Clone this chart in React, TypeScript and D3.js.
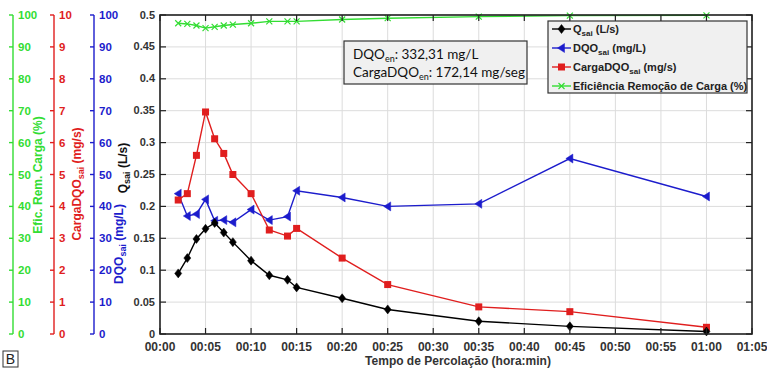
import React from "react";
import * as d3 from "d3";

const times = [2, 3, 4, 5, 6, 7, 8, 10, 12, 14, 15, 20, 25, 35, 45, 60];
const qSai = [0.095, 0.119, 0.149, 0.165, 0.174, 0.159, 0.144, 0.115, 0.092, 0.085, 0.073, 0.056, 0.0385, 0.02, 0.012, 0.004];
const dqoSai = [44, 37, 37.6, 42.2, 35.5, 35.7, 35, 39, 35.7, 36.8, 44.9, 42.8, 40, 40.8, 55, 43.1];
const cargaDqo = [4.2, 4.4, 5.6, 6.96, 6.12, 5.66, 5.0, 4.4, 3.26, 3.07, 3.31, 2.38, 1.55, 0.85, 0.7, 0.21];
const eficiencia = [97.4, 97.2, 96.7, 95.9, 96.3, 96.7, 97.0, 97.4, 98.0, 98.0, 98.0, 98.6, 99.0, 99.5, 99.8, 99.9];

const xTicks = d3.range(0, 66, 5);
const yTicks = d3.range(0, 0.5001, 0.05);
const pctTicks = d3.range(0, 101, 10);
const cargaTicks = d3.range(0, 11, 1);
const dqoTicks = d3.range(0, 101, 10);

const GREEN = "#33dd33";
const RED = "#e01e1e";
const BLUE = "#1c1ccc";
const FONT = "'Liberation Sans', Arial, sans-serif";

const W = 767, H = 370;
const L = 160, R = 752, T = 15, B = 334;

const fmtTime = (m: number) => {
  const h = Math.floor(m / 60);
  const mm = m % 60;
  return `${String(h).padStart(2, "0")}:${String(mm).padStart(2, "0")}`;
};

function Marker({ kind, x, y, color }: { kind: string; x: number; y: number; color: string }) {
  if (kind === "diamond") {
    return <path d={`M${x},${y - 4.5}L${x + 3.5},${y}L${x},${y + 4.5}L${x - 3.5},${y}Z`} fill={color} stroke={color} strokeWidth={0.5} />;
  }
  if (kind === "tri") {
    return <path d={`M${x - 4},${y}L${x + 3},${y - 4.5}L${x + 3},${y + 4.5}Z`} fill={color} stroke={color} strokeWidth={0.5} />;
  }
  if (kind === "square") {
    return <rect x={x - 3.5} y={y - 3.5} width={7} height={7} fill={color} />;
  }
  return (
    <path d={`M${x - 3},${y - 3}L${x + 3},${y + 3}M${x - 3},${y + 3}L${x + 3},${y - 3}`} stroke={color} strokeWidth={1.2} fill="none" />
  );
}

export default function App() {
  const x = d3.scaleLinear().domain([0, 65]).range([L, R]);
  const y = d3.scaleLinear().domain([0, 0.5]).range([B, T]);
  const yPct = d3.scaleLinear().domain([0, 100]).range([B, T]);
  const yCarga = d3.scaleLinear().domain([0, 10]).range([B, T]);
  const yDqo = d3.scaleLinear().domain([0, 100]).range([B, T]);

  const series = [
    { vals: eficiencia, sc: yPct, color: GREEN, kind: "x" },
    { vals: dqoSai, sc: yDqo, color: BLUE, kind: "tri" },
    { vals: cargaDqo, sc: yCarga, color: RED, kind: "square" },
    { vals: qSai, sc: y, color: "#000", kind: "diamond" },
  ];

  const leftAxes = [
    { xPos: 13, sc: yPct, ticks: pctTicks, color: GREEN },
    { xPos: 54, sc: yCarga, ticks: cargaTicks, color: RED },
    { xPos: 94, sc: yDqo, ticks: dqoTicks, color: BLUE },
  ];

  const legendItems = [
    { kind: "diamond", color: "#000", main: "Q", sub: "sai", rest: " (L/s)" },
    { kind: "tri", color: BLUE, main: "DQO", sub: "sai", rest: " (mg/L)" },
    { kind: "square", color: RED, main: "CargaDQO", sub: "sai", rest: " (mg/s)" },
    { kind: "x", color: GREEN, main: "Eficiência Remoção de Carga (%)", sub: "", rest: "" },
  ];

  return (
    <svg width={W} height={H} style={{ position: "absolute", left: 0, top: 0, background: "#fff" }} fontFamily={FONT}>
      {/* grid */}
      {xTicks.map((t) => (
        <line key={"gx" + t} x1={x(t)} x2={x(t)} y1={T} y2={B} stroke="#dcdcdc" strokeWidth={1} />
      ))}
      {yTicks.map((t) => (
        <line key={"gy" + t} x1={L} x2={R} y1={y(t)} y2={y(t)} stroke="#dcdcdc" strokeWidth={1} />
      ))}

      {/* series */}
      {series.map((s, i) => {
        const line = d3.line<number>().x((_, j) => x(times[j])).y((v) => s.sc(v));
        return (
          <g key={"s" + i}>
            <path d={line(s.vals) || ""} fill="none" stroke={s.color} strokeWidth={1.4} />
            {s.vals.map((v, j) => (
              <Marker key={j} kind={s.kind} x={x(times[j])} y={s.sc(v)} color={s.color} />
            ))}
          </g>
        );
      })}

      {/* frame & ticks */}
      <rect x={L} y={T} width={R - L} height={B - T} fill="none" stroke="#222" strokeWidth={1.6} />
      {xTicks.map((t) => (
        <g key={"xt" + t}>
          <line x1={x(t)} x2={x(t)} y1={B} y2={B - 6} stroke="#222" strokeWidth={1.2} />
          <line x1={x(t)} x2={x(t)} y1={T} y2={T + 6} stroke="#222" strokeWidth={1.2} />
          <text x={x(t)} y={B + 17} textAnchor="middle" fontSize={12} fontWeight="bold" fill="#333">
            {fmtTime(t)}
          </text>
        </g>
      ))}
      {yTicks.map((t) => (
        <g key={"yt" + t}>
          <line x1={L} x2={L + 6} y1={y(t)} y2={y(t)} stroke="#222" strokeWidth={1.2} />
          <line x1={R} x2={R - 6} y1={y(t)} y2={y(t)} stroke="#222" strokeWidth={1.2} />
          <text x={L - 5} y={y(t) + 3.5} textAnchor="end" fontSize={11} fontWeight="bold" fill="#333">
            {d3.format("~g")(+t.toFixed(2))}
          </text>
        </g>
      ))}

      {/* left axes */}
      {leftAxes.map((a, i) => (
        <g key={"la" + i}>
          <line x1={a.xPos} x2={a.xPos} y1={T} y2={B} stroke={a.color} strokeWidth={1.4} />
          {a.ticks.map((t) => (
            <g key={t}>
              <line x1={a.xPos - 4} x2={a.xPos} y1={a.sc(t)} y2={a.sc(t)} stroke={a.color} strokeWidth={1.4} />
              <text x={a.xPos + 5} y={a.sc(t) + 4} fontSize={11.5} fontWeight="bold" fill={a.color}>
                {t}
              </text>
            </g>
          ))}
        </g>
      ))}

      {/* axis labels */}
      <text transform="translate(42,175) rotate(-90)" textAnchor="middle" fontSize={12} fontWeight="bold" fill={GREEN}>
        Efic. Rem. Carga (%)
      </text>
      <text transform="translate(81,184) rotate(-90)" textAnchor="middle" fontSize={12} fontWeight="bold" fill={RED}>
        CargaDQO<tspan fontSize={9} dy={3}>sai</tspan>
        <tspan dy={-3}> (mg/s)</tspan>
      </text>
      <text transform="translate(123,244) rotate(-90)" textAnchor="middle" fontSize={12} fontWeight="bold" fill={BLUE}>
        DQO<tspan fontSize={9} dy={3}>sai</tspan>
        <tspan dy={-3}> (mg/L)</tspan>
      </text>
      <text transform="translate(127,168) rotate(-90)" textAnchor="middle" fontSize={12} fontWeight="bold" fill="#111">
        Q<tspan fontSize={9} dy={3}>sai</tspan>
        <tspan dy={-3}> (L/s)</tspan>
      </text>
      <text x={458} y={365} textAnchor="middle" fontSize={12} fontWeight="bold" fill="#333">
        Tempo de Percolação (hora:min)
      </text>

      {/* annotation */}
      <rect x={344} y={41} width={183} height={43} fill="#f0f0f0" stroke="#333" strokeWidth={1.2} />
      <text x={353} y={59} fontSize={13.5} fontFamily="Lato, 'Open Sans', sans-serif" fill="#111">
        DQO<tspan fontSize={9} dy={3}>en</tspan>
        <tspan dy={-3}>: 332,31 mg/L</tspan>
      </text>
      <text x={353} y={77} fontSize={13.5} fontFamily="Lato, 'Open Sans', sans-serif" fill="#111">
        CargaDQO<tspan fontSize={9} dy={3}>en</tspan>
        <tspan dy={-3}>: 172,14 mg/seg</tspan>
      </text>

      {/* legend */}
      <rect x={548} y={21} width={199} height={72} fill="#f0f0f0" stroke="#333" strokeWidth={1.2} />
      {legendItems.map((it, i) => {
        const cy = 29 + i * 19;
        return (
          <g key={"lg" + i}>
            <line x1={552} x2={571} y1={cy} y2={cy} stroke={it.color} strokeWidth={1.4} />
            <Marker kind={it.kind} x={561.5} y={cy} color={it.color} />
            <text x={573} y={cy + 4} fontSize={11} fontWeight="bold" fill="#222">
              {it.main}
              {it.sub ? (
                <>
                  <tspan fontSize={8} dy={3}>{it.sub}</tspan>
                  <tspan dy={-3}>{it.rest}</tspan>
                </>
              ) : null}
            </text>
          </g>
        );
      })}

      {/* panel label */}
      <rect x={3} y={351} width={15} height={16} fill="#fff" stroke="#333" strokeWidth={1} />
      <text x={10.5} y={364} textAnchor="middle" fontSize={14} fontFamily="'Liberation Sans', Arial, sans-serif" fill="#222">
        B
      </text>
    </svg>
  );
}
